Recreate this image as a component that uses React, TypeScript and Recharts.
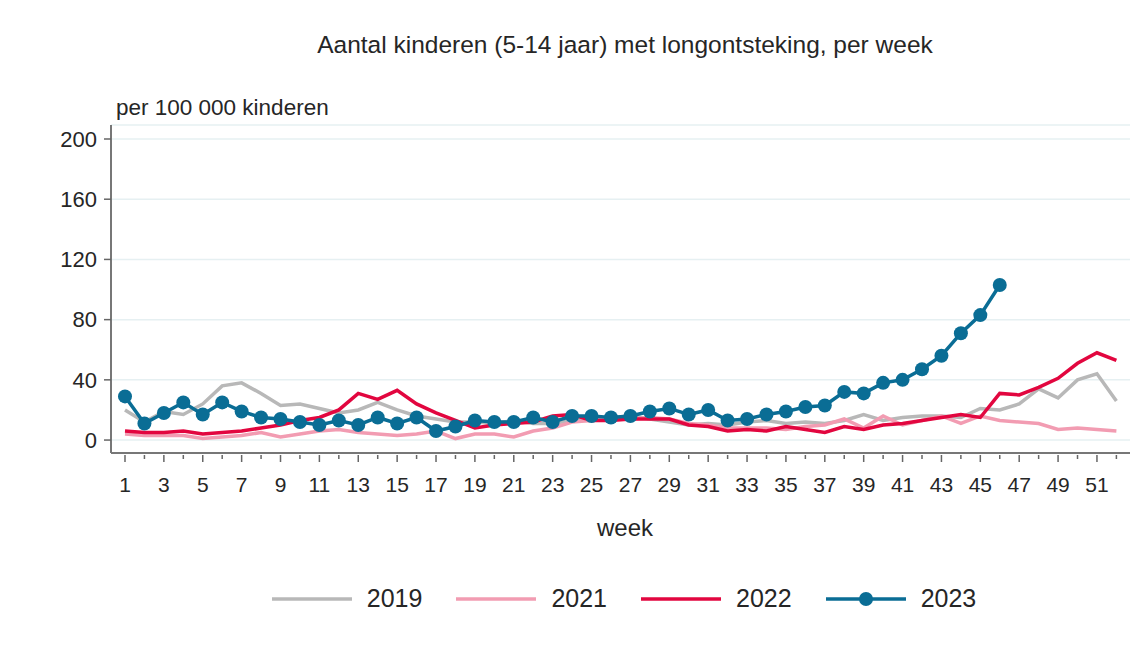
import React from 'react';
import { LineChart, Line, XAxis, YAxis, CartesianGrid } from 'recharts';

const weeks = Array.from({ length: 52 }, (_, i) => i + 1);

const cases2019 = [
  20, 12, 19, 17, 24, 36, 38, 31, 23, 24, 21, 18, 20, 25, 20, 16, 14, 12, 12, 11,
  13, 11, 11, 13, 14, 15, 16, 14, 12, 10, 11, 10, 12, 13, 11, 12, 11, 13, 17, 13,
  15, 16, 16, 15, 21, 20, 24, 34, 28, 40, 44, 26,
];

const cases2021 = [
  4, 3, 3, 3, 1, 2, 3, 5, 2, 4, 6, 7, 5, 4, 3, 4, 6, 1, 4, 4,
  2, 6, 8, 12, 13, 14, 14, 15, 14, 11, 10, 8, 8, 8, 7, 9, 10, 14, 8, 16,
  10, 13, 16, 11, 16, 13, 12, 11, 7, 8, 7, 6,
];

const cases2022 = [
  6, 5, 5, 6, 4, 5, 6, 8, 10, 13, 15, 20, 31, 27, 33, 24, 18, 13, 8, 10,
  11, 12, 16, 17, 13, 13, 14, 14, 14, 10, 9, 6, 7, 6, 9, 7, 5, 9, 7, 10,
  11, 13, 15, 17, 15, 31, 30, 35, 41, 51, 58, 53,
];

const cases2023 = [
  29, 11, 18, 25, 17, 25, 19, 15, 14, 12, 10, 13, 10, 15, 11, 15, 6, 9, 13, 12,
  12, 15, 12, 16, 16, 15, 16, 19, 21, 17, 20, 13, 14, 17, 19, 22, 23, 32, 31, 38,
  40, 47, 56, 71, 83, 103,
];

const yTicks = [0, 40, 80, 120, 160, 200];

const series = [
  { key: 'y2019', name: '2019', color: '#b8b8b8', dot: false },
  { key: 'y2021', name: '2021', color: '#f29cb2', dot: false },
  { key: 'y2022', name: '2022', color: '#e2063f', dot: false },
  { key: 'y2023', name: '2023', color: '#0a6d95', dot: true },
];

const data = weeks.map((w, i) => ({
  week: w,
  y2019: cases2019[i],
  y2021: cases2021[i],
  y2022: cases2022[i],
  y2023: cases2023[i],
}));

const FONT = '"Liberation Sans", Arial, sans-serif';
const TEXT = '#262626';

const WeekTick = (props: any) => {
  const { x, y, payload } = props;
  const major = payload.value % 2 === 1;
  return (
    <g>
      <line x1={x} x2={x} y1={y - 6} y2={y + (major ? 1 : -2)} stroke="#666" strokeWidth={1.5} />
      {major && (
        <text x={x} y={y + 31} textAnchor="middle" fontSize={21} fill={TEXT} fontFamily={FONT}>
          {payload.value}
        </text>
      )}
    </g>
  );
};

const LegendRow = () => (
  <div style={{ display: 'flex', justifyContent: 'center', alignItems: 'center', fontSize: 25, color: TEXT }}>
    {series.map((s) => (
      <div key={s.key} style={{ display: 'flex', alignItems: 'center', margin: '0 17px' }}>
        <svg width={80} height={16} style={{ marginRight: 15 }}>
          <line x1={0} x2={80} y1={8} y2={8} stroke={s.color} strokeWidth={3.5} />
          {s.dot && <circle cx={40} cy={8} r={7} fill={s.color} />}
        </svg>
        <span>{s.name}</span>
      </div>
    ))}
  </div>
);

export default function App() {
  return (
    <div style={{ position: 'absolute', left: 0, top: 0, width: 1136, height: 647, background: '#fff', fontFamily: FONT }}>
      <div style={{ position: 'absolute', top: 31, left: 0, width: 1250, textAlign: 'center', fontSize: 24.5, color: TEXT }}>
        Aantal kinderen (5-14 jaar) met longontsteking, per week
      </div>
      <div style={{ position: 'absolute', top: 95, left: 116, fontSize: 22.5, color: TEXT }}>
        per 100 000 kinderen
      </div>
      <div style={{ position: 'absolute', top: 514, left: 0, width: 1250, textAlign: 'center', fontSize: 24, color: TEXT }}>
        week
      </div>
      <div style={{ position: 'absolute', top: 584, left: 0, width: 1248 }}>
        <LegendRow />
      </div>
      <LineChart width={1136} height={647} data={data} margin={{ top: 125, right: 6, bottom: 134, left: 51 }}>
        <CartesianGrid horizontal vertical={false} stroke="#e6f0f2" strokeWidth={1.5} />
        <XAxis
          dataKey="week"
          type="number"
          domain={[0.28, 52.7]}
          ticks={weeks}
          interval={0}
          allowDataOverflow
          axisLine={{ stroke: '#777', strokeWidth: 2 }}
          tickLine={false}
          tick={<WeekTick />}
          height={60}
        />
        <YAxis
          type="number"
          domain={[-8.6, 209.3]}
          ticks={yTicks}
          allowDataOverflow
          width={60}
          axisLine={{ stroke: '#777', strokeWidth: 2 }}
          tickLine={{ stroke: '#666', strokeWidth: 1.5 }}
          tickSize={7}
          tickMargin={7}
          tick={{ fontSize: 22, fill: TEXT, fontFamily: FONT }}
        />
        {series.map((s) => (
          <Line
            key={s.key}
            dataKey={s.key}
            name={s.name}
            stroke={s.color}
            strokeWidth={3.5}
            dot={s.dot ? { r: 7, fill: s.color, stroke: s.color, strokeWidth: 0 } : false}
            activeDot={false}
            connectNulls={false}
            isAnimationActive={false}
          />
        ))}
      </LineChart>
    </div>
  );
}
